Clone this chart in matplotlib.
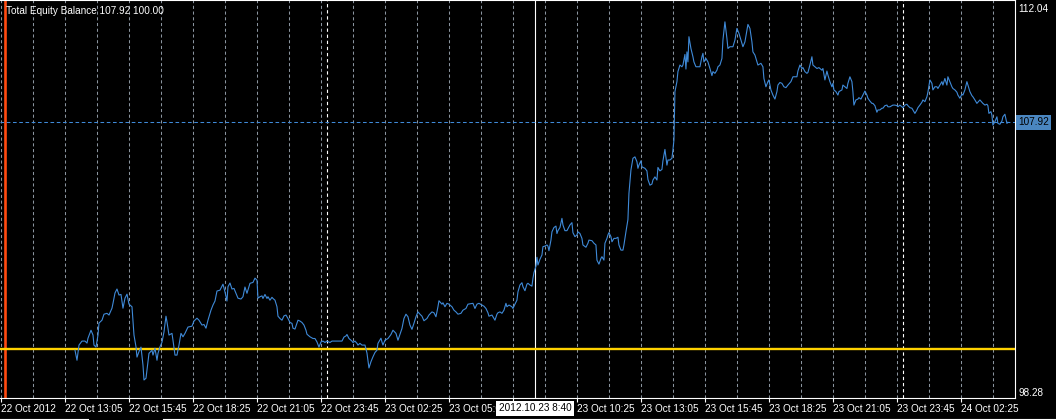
import matplotlib.pyplot as plt
import matplotlib.transforms as mtransforms
from matplotlib.lines import Line2D

# data: minutes after 22 Oct 10:25 and equity balance
minutes = [
    185, 190, 195, 202.5, 210, 215, 217.5, 225, 230, 232.5, 237.5, 242.5, 245, 252.5, 257.5,
    265, 270, 277.5, 280, 285, 290, 295, 300, 305, 310, 315, 320, 327.5, 332.5, 337.5,
    340, 345, 350, 355, 357.5, 362.5, 365, 370, 377.5, 380, 385, 390, 392.5, 397.5, 402.5,
    407.5, 412.5, 415, 420, 427.5, 430, 435, 440, 445, 450, 455, 460, 467.5, 477.5, 482.5,
    490, 495, 502.5, 507.5, 512.5, 517.5, 525, 530, 535, 540, 547.5, 555, 560, 565, 567.5,
    572.5, 577.5, 582.5, 587.5, 592.5, 600, 605, 610, 615, 622.5, 630, 635, 640, 642.5, 647.5,
    652.5, 655, 660, 665, 667.5, 672.5, 677.5, 680, 685, 690, 692.5, 697.5, 702.5, 707.5, 712.5,
    717.5, 722.5, 727.5, 730, 735, 740, 742.5, 747.5, 752.5, 757.5, 762.5, 765, 772.5, 780, 785,
    790, 795, 800, 805, 810, 815, 822.5, 827.5, 840, 852.5, 857.5, 862.5, 865, 870, 877.5,
    880, 885, 890, 892.5, 897.5, 902.5, 910, 915, 917.5, 920, 925, 930, 935, 940, 942.5,
    950, 952.5, 955, 960, 967.5, 975, 980, 987.5, 992.5,
    1002.5, 1007.5, 1012.5, 1017.5, 1022.5, 1027.5, 1032.5, 1037.5, 1042.5, 1047.5, 1052.5, 1057.5, 1065, 1070, 1077.5,
    1082.5, 1087.5, 1092.5, 1095, 1102.5, 1105, 1110, 1115, 1120, 1127.5, 1132.5, 1137.5, 1142.5, 1150, 1155,
    1162.5, 1167.5, 1180, 1185, 1190, 1195, 1202.5, 1207.5, 1212.5, 1217.5, 1220, 1227.5, 1230, 1235, 1240,
    1242.5, 1247.5, 1252.5, 1257.5, 1262.5, 1265, 1270, 1277.5, 1280, 1285, 1290, 1292.5, 1297.5, 1302.5, 1305,
    1310, 1315, 1317.5, 1322.5, 1327.5, 1330, 1332.5, 1337.5, 1340, 1342.5, 1347.5, 1352.5, 1355, 1360, 1365,
    1367.5, 1370, 1375, 1377.5, 1382.5, 1387.5, 1390, 1392.5, 1397.5, 1402.5, 1405, 1410, 1415, 1422.5, 1427.5,
    1430, 1435, 1440, 1442.5, 1447.5, 1452.5, 1455, 1462.5, 1467.5, 1470, 1477.5, 1482.5, 1487.5, 1490, 1495,
    1500, 1502.5, 1507.5, 1510, 1515, 1517.5, 1520, 1525, 1527.5, 1532.5, 1537.5, 1542.5, 1545, 1550, 1555,
    1557.5, 1562.5, 1567.5, 1570, 1575, 1580, 1585, 1590, 1592.5, 1595, 1600, 1602.5, 1610, 1615, 1617.5,
    1622.5, 1627.5, 1630, 1635, 1640, 1642.5, 1647.5, 1652.5, 1655, 1660, 1665, 1667.5, 1672.5, 1677.5, 1680,
    1682.5, 1685, 1690, 1692.5, 1697.5, 1702.5, 1705, 1710, 1712.5, 1715, 1717.5, 1720, 1725, 1730, 1732.5,
    1737.5, 1742.5, 1747.5, 1752.5, 1755, 1757.5, 1762.5, 1767.5, 1772.5, 1777.5, 1780, 1785, 1790, 1792.5, 1797.5,
    1802.5, 1805, 1810, 1815, 1817.5, 1822.5, 1830, 1835, 1840, 1845, 1850, 1855, 1860, 1865, 1867.5,
    1872.5, 1877.5, 1880, 1885, 1890, 1892.5, 1900, 1905, 1907.5, 1912.5, 1917.5, 1920, 1925, 1930, 1935,
    1940, 1942.5, 1947.5, 1952.5, 1957.5, 1962.5, 1967.5, 1975, 1980, 1990, 1992.5, 1997.5, 2002.5, 2005, 2010,
    2015, 2017.5, 2022.5, 2027.5, 2030, 2035, 2040, 2045, 2052.5, 2055, 2060, 2065, 2067.5, 2072.5, 2077.5,
    2080, 2082.5, 2087.5, 2092.5, 2095, 2102.5, 2105, 2110, 2115, 2117.5, 2122.5, 2127.5, 2130, 2132.5, 2137.5,
    2142.5, 2145, 2150, 2155, 2160, 2165, 2167.5, 2172.5, 2177.5, 2180, 2185, 2190, 2192.5, 2197.5, 2202.5,
    2205, 2210, 2215, 2217.5, 2222.5, 2227.5, 2230, 2235, 2240, 2242.5, 2247.5, 2252.5, 2255, 2260, 2265,
    2267.5, 2272.5, 2277.5, 2280, 2285, 2290, 2292.5, 2297.5, 2302.5, 2305, 2310, 2315, 2317.5, 2322.5, 2327.5,
    2330, 2335, 2340, 2342.5, 2347.5, 2352.5, 2355, 2360, 2365, 2367.5, 2372.5, 2377.5, 2380, 2385, 2390,
    2392.5, 2397.5, 2402.5, 2405, 2410, 2415, 2417.5, 2422.5, 2427.5, 2430, 2435, 2440, 2442.5, 2447.5, 2452.5,
    2455, 2460, 2465, 2467.5, 2470, 2475, 2477.5, 2480, 2485, 2490, 2492.5, 2497.5, 2502.5, 2505, 2510,
    2515, 2517.5,
]
equity = [
    99.95, 99.60, 100.13, 100.27, 100.27, 100.20, 100.37, 100.65, 100.48, 100.13, 100.06, 100.48, 100.90, 101.00, 101.21,
    101.24, 101.18, 101.42, 101.59, 101.95, 102.09, 101.88, 101.90, 101.42, 101.77, 101.91, 101.56, 101.47, 100.48, 100.07,
    99.71, 99.90, 100.06, 99.43, 98.91, 98.97, 99.26, 99.84, 99.95, 99.78, 100.02, 99.60, 99.84, 100.07, 100.23,
    100.59, 101.14, 100.94, 100.48, 100.54, 100.30, 99.78, 99.78, 100.13, 100.54, 100.42, 100.54, 100.76, 100.79, 100.97,
    101.07, 101.00, 100.83, 100.85, 100.72, 101.00, 101.35, 101.53, 101.67, 102.02, 102.05, 102.26, 101.99, 101.67, 102.17,
    102.30, 102.09, 102.11, 101.94, 101.77, 101.74, 101.82, 102.16, 101.94, 102.29, 102.32, 102.47, 102.40, 101.77, 101.82,
    101.85, 101.76, 101.90, 101.76, 101.82, 101.70, 101.80, 101.76, 101.70, 101.47, 101.14, 101.06, 101.00, 101.15, 101.18,
    101.06, 100.92, 100.89, 100.72, 100.69, 100.89, 101.00, 100.97, 100.92, 100.83, 100.65, 100.51, 100.42, 100.36, 100.36,
    100.24, 100.06, 100.24, 100.27, 100.22, 100.27, 100.22, 100.27, 100.27, 100.27, 100.41, 100.45, 100.50, 100.36, 100.27,
    100.22, 100.27, 100.19, 100.13, 100.19, 100.13, 100.13, 99.85, 99.60, 99.33, 99.55, 99.72, 99.87, 99.95, 100.19,
    100.37, 100.24, 100.13, 100.30, 100.36, 100.50, 100.65, 100.54, 100.30,
    100.71, 101.06, 101.21, 101.12, 100.83, 100.68, 100.89, 101.12, 101.29, 101.21, 101.14, 100.98, 101.06, 101.18, 101.29,
    101.26, 101.12, 101.47, 101.68, 101.56, 101.61, 101.47, 101.59, 101.56, 101.47, 101.35, 101.29, 101.21, 101.24, 101.35,
    101.41, 101.56, 101.59, 101.41, 101.56, 101.59, 101.53, 101.49, 101.41, 101.26, 101.14, 101.18, 101.12, 101.00, 101.21,
    101.26, 101.29, 101.24, 101.35, 101.59, 101.47, 101.53, 101.47, 101.41, 101.56, 101.70, 101.99, 102.23, 102.31, 102.17,
    102.03, 102.26, 102.29, 102.23, 102.19, 102.46, 102.66, 102.89, 103.20, 102.93, 103.13, 103.28, 103.57, 103.59, 103.63,
    103.59, 103.43, 103.80, 104.09, 104.24, 104.29, 104.03, 104.13, 104.24, 104.56, 104.33, 104.13, 104.13, 104.33, 104.41,
    104.06, 103.92, 103.98, 104.09, 104.03, 103.86, 103.63, 103.55, 103.69, 103.80, 103.78, 103.69, 103.63, 103.10, 102.96,
    103.16, 103.22, 103.10, 103.69, 103.86, 103.98, 104.06, 103.92, 103.74, 103.86, 103.86, 103.90, 103.63, 103.45, 103.45,
    103.63, 104.09, 104.52, 105.43, 106.25, 106.66, 106.71, 106.54, 106.31, 106.42, 106.57, 106.36, 106.31, 106.22, 105.92,
    105.72, 105.76, 105.90, 106.01, 105.90, 106.34, 106.22, 106.27, 106.57, 106.97, 106.42, 106.60, 106.60, 106.66, 106.95,
    107.30, 108.99, 109.34, 109.69, 109.92, 109.86, 109.92, 110.29, 109.78, 110.38, 110.03, 110.91, 110.50, 110.21, 110.03,
    109.86, 109.86, 109.86, 110.21, 110.33, 110.03, 110.15, 110.03, 109.80, 109.55, 109.69, 109.63, 109.74, 109.86, 109.92,
    110.15, 110.79, 111.43, 110.85, 110.50, 110.56, 110.56, 110.79, 111.20, 111.03, 110.79, 110.56, 110.73, 111.14, 111.34,
    111.20, 110.73, 110.38, 110.27, 110.03, 109.92, 109.98, 109.86, 109.45, 109.16, 109.34, 109.40, 109.05, 108.87, 108.73,
    108.99, 109.22, 109.31, 109.28, 109.16, 109.13, 109.22, 109.34, 109.51, 109.51, 109.71, 109.92, 109.80, 109.83, 109.69,
    109.63, 109.66, 109.92, 110.21, 109.92, 109.86, 109.80, 109.83, 109.74, 109.80, 109.40, 109.71, 109.57, 109.34, 109.16,
    109.28, 109.05, 108.99, 108.87, 108.99, 109.05, 109.22, 109.16, 109.10, 109.28, 109.51, 109.34, 108.99, 108.52, 108.70,
    108.73, 108.78, 108.73, 108.87, 109.01, 108.87, 108.76, 108.66, 108.58, 108.58, 108.50, 108.27, 108.35, 108.35, 108.41,
    108.41, 108.50, 108.52, 108.46, 108.46, 108.50, 108.52, 108.52, 108.50, 108.46, 108.52, 108.46, 108.43, 108.52, 108.55,
    108.50, 108.43, 108.41, 108.35, 108.23, 108.35, 108.43, 108.52, 108.62, 108.70, 108.64, 108.81, 108.97, 109.40, 109.28,
    109.05, 109.16, 109.16, 109.10, 109.22, 109.34, 109.22, 109.45, 109.22, 109.51, 109.34, 109.16, 109.10, 109.05, 108.97,
    108.87, 108.76, 108.90, 108.87, 109.05, 109.34, 109.22, 108.99, 108.85, 108.81, 108.70, 108.58, 108.62, 108.70, 108.62,
    108.58, 108.52, 108.55, 108.50, 108.23, 108.29, 108.17, 107.82, 107.94, 108.11, 107.88, 107.85, 107.96, 108.11, 108.20,
    107.88, 107.92,
]

# time axis labels, every 160 minutes (the 07:45 one sits under the cursor tag)
tick_minutes = [0, 160, 320, 480, 640, 800, 960, 1120, 1280, 1440, 1600, 1760, 1920, 2080, 2240, 2400]
tick_labels = ['22 Oct 2012', '22 Oct 13:05', '22 Oct 15:45', '22 Oct 18:25', '22 Oct 21:05',
               '22 Oct 23:45', '23 Oct 02:25', '23 Oct 05:05', '', '23 Oct 10:25',
               '23 Oct 13:05', '23 Oct 15:45', '23 Oct 18:25', '23 Oct 21:05', '23 Oct 23:45',
               '24 Oct 02:25']
day_breaks = [815, 2255]          # 23 Oct 00:00, 24 Oct 00:00
cursor_time = 1335                # 23 Oct 08:40
cursor_label = '2012.10.23 8:40'
start_marker = 10
balance = 100.00
last_equity = 107.92
price_max, price_min = 112.04, 98.28
title = 'Total Equity Balance 107.92 100.00'

plt.rcParams['font.family'] = ['Liberation Sans', 'DejaVu Sans']
blue = '#3f8ad8'

fig = plt.figure(figsize=(10.56, 4.2), dpi=100, facecolor='black')
ax = fig.add_axes([0, 22 / 420, 1014.5 / 1056, 398 / 420])
ax.set_facecolor('black')
ax.set_xlim(-2.5, 2534)
ax.set_ylim(price_min, price_max + 4.4 / 28.6)

# grid
for t in range(0, 2481, 80):
    ax.axvline(t, color='#8a949e', lw=0.75, ls=(0, (3, 2.5)), zorder=1)
for t in day_breaks:
    ax.axvline(t, color='white', lw=0.8, ls=(0, (3, 2.5)), zorder=1.1)
ax.axvline(cursor_time, color='white', lw=0.8, zorder=1.2)
ax.axvline(start_marker, color='#ff4a10', lw=1.9, zorder=1.2)

ax.axhline(balance, color='#ffd200', lw=1.7, zorder=2)
ax.axhline(last_equity, color=blue, lw=0.75, ls=(0, (3.5, 2.5)), zorder=2)
ax.plot(minutes, equity, color=blue, lw=0.8, zorder=3)

# frame
for side in ['top', 'right', 'bottom']:
    ax.spines[side].set_color('white')
    ax.spines[side].set_linewidth(0.8)
ax.spines['left'].set_visible(False)

ax.set_yticks([])
ax.set_xticks(tick_minutes)
ax.set_xticklabels(tick_labels, ha='left')
ax.tick_params(axis='x', colors='white', length=3, width=0.8, pad=1.5, labelsize=7.2)

ax.text(6 / 1014.5, 1 - 6 / 398, title, transform=ax.transAxes, color='white',
        fontsize=7.2, va='top', ha='left')

# price scale on the right
trans = mtransforms.blended_transform_factory(ax.transAxes, ax.transData)
ax.text(1.0035, price_max, f'{price_max:.2f}', transform=trans, color='white',
        fontsize=7.2, va='top', ha='left', clip_on=False)
ax.text(1.0035, price_min, f'{price_min:.2f}', transform=trans, color='white',
        fontsize=7.2, va='bottom', ha='left', clip_on=False)
ax.text(1.0035, last_equity, f'{last_equity:.2f}', transform=trans, color='black',
        fontsize=7.2, va='center', ha='left', clip_on=False,
        bbox=dict(boxstyle='square,pad=0.25', facecolor='#4a86c0', edgecolor='none'))

# cursor time tag
trans_x = mtransforms.blended_transform_factory(ax.transData, ax.transAxes)
ax.text(cursor_time, -0.013, cursor_label, transform=trans_x, color='black',
        fontsize=7.2, va='top', ha='center', clip_on=False, zorder=10,
        bbox=dict(boxstyle='square,pad=0.25', facecolor='white', edgecolor='none'))

# window border at bottom
fig.add_artist(Line2D([0, 88 / 1056], [0.6 / 420] * 2, color='white', lw=0.8))
fig.add_artist(Line2D([163 / 1056, 1], [0.6 / 420] * 2, color='white', lw=0.8))

fig.savefig('out.png', dpi=100, facecolor='black')
